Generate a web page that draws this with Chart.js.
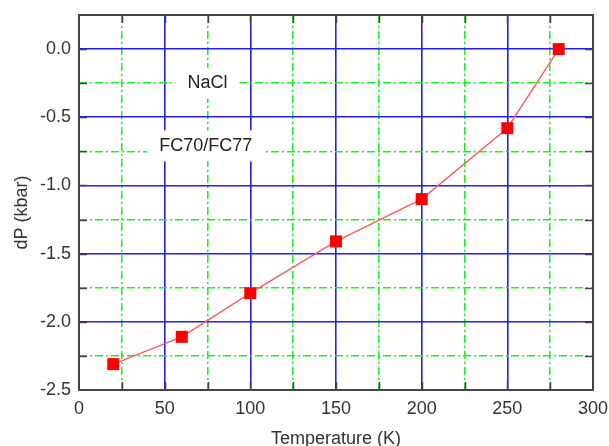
<!DOCTYPE html>
<html>
<head>
<meta charset="utf-8">
<script src="https://cdn.jsdelivr.net/npm/chart.js@4/dist/chart.umd.min.js"></script>
<style>
  html, body { margin: 0; padding: 0; background: #fff; }
  #wrap { width: 609px; height: 446px; }
</style>
</head>
<body>
<div id="wrap"><canvas id="c" width="609" height="446"></canvas></div>
<script>
// Pressure shift of the NaCl gauge in FC70/FC77 versus temperature
const temperatures = [20, 60, 100, 150, 200, 250, 280];   // K
const pressureShift = [-2.31, -2.11, -1.79, -1.41, -1.10, -0.58, 0.0]; // kbar

const xRange = [0, 300];
const yRange = [-2.5, 0.25];
const xMajorStep = 50, xMinorStep = 25;
const yMajorStep = 0.5, yMinorStep = 0.25;

const annotations = [
  { text: 'NaCl', x: 75, y: -0.25 },
  { text: 'FC70/FC77', x: 74, y: -0.71 }
];

const axisTitleX = 'Temperature (K)';
const axisTitleY = 'dP (kbar)';

const FONT = '"Liberation Sans", Arial, sans-serif';
const MAJOR_COLOR = 'rgb(30,30,255)';
const MINOR_COLOR = 'rgb(30,240,30)';
const FRAME_COLOR = '#444';

function isMultiple(v, step) {
  const r = v / step;
  return Math.abs(r - Math.round(r)) < 1e-6;
}

function gridColor(range, majorStep) {
  return (ctx) => {
    const v = ctx.tick ? ctx.tick.value : null;
    if (v === null) return 'rgba(0,0,0,0)';
    if (Math.abs(v - range[0]) < 1e-6 || Math.abs(v - range[1]) < 1e-6) return 'rgba(0,0,0,0)';
    return isMultiple(v, majorStep) ? MAJOR_COLOR : MINOR_COLOR;
  };
}

function gridDash(majorStep) {
  return (ctx) => {
    if (!ctx.tick) return [];
    return isMultiple(ctx.tick.value, majorStep) ? [] : [8, 3, 2, 3];
  };
}

// Frame, inward tick marks, text boxes and axis titles
const decorations = {
  id: 'decorations',
  beforeDatasetsDraw(chart) {
    const { ctx, scales } = chart;
    ctx.save();
    ctx.font = '18px ' + FONT;
    ctx.textAlign = 'center';
    ctx.textBaseline = 'middle';
    annotations.forEach(a => {
      const px = scales.x.getPixelForValue(a.x);
      const py = scales.y.getPixelForValue(a.y);
      const w = ctx.measureText(a.text).width + 24;
      const h = 31;
      ctx.fillStyle = '#fff';
      ctx.fillRect(px - w / 2, py - h / 2, w, h);
      ctx.fillStyle = '#222';
      ctx.fillText(a.text, px, py);
    });
    ctx.restore();
  },
  afterDraw(chart) {
    const { ctx, chartArea: a, scales } = chart;
    ctx.save();
    const len = 8;
    ctx.strokeStyle = FRAME_COLOR;
    ctx.lineWidth = 1.5;
    ctx.beginPath();
    for (let v = xRange[0] + xMinorStep; v < xRange[1] - 1e-6; v += xMinorStep) {
      const px = Math.round(scales.x.getPixelForValue(v)) + 0.5;
      ctx.moveTo(px, a.bottom); ctx.lineTo(px, a.bottom - len);
      ctx.moveTo(px, a.top); ctx.lineTo(px, a.top + len);
    }
    for (let v = yRange[0] + yMinorStep; v < yRange[1] - 1e-6; v += yMinorStep) {
      const py = Math.round(scales.y.getPixelForValue(v)) + 0.5;
      ctx.moveTo(a.left, py); ctx.lineTo(a.left + len, py);
      ctx.moveTo(a.right, py); ctx.lineTo(a.right - len, py);
    }
    ctx.stroke();
    ctx.lineWidth = 2;
    ctx.strokeRect(a.left, a.top, a.right - a.left, a.bottom - a.top);

    ctx.fillStyle = '#333';
    ctx.font = '18px ' + FONT;
    ctx.textAlign = 'center';
    ctx.textBaseline = 'alphabetic';
    ctx.fillText(axisTitleX, (a.left + a.right) / 2, 444);
    ctx.translate(27, (a.top + a.bottom) / 2 + 10);
    ctx.rotate(-Math.PI / 2);
    ctx.fillText(axisTitleY, 0, 0);
    ctx.restore();
  }
};

new Chart(document.getElementById('c'), {
  type: 'line',
  data: {
    datasets: [{
      data: temperatures.map((t, i) => ({ x: t, y: pressureShift[i] })),
      borderColor: 'rgb(255,90,90)',
      borderWidth: 1.4,
      backgroundColor: 'rgb(255,0,0)',
      pointStyle: 'rect',
      pointRadius: 8.5,
      pointBorderWidth: 0,
      pointBackgroundColor: 'rgb(255,0,0)',
      tension: 0,
      fill: false
    }]
  },
  options: {
    responsive: false,
    animation: false,
    devicePixelRatio: 1,
    layout: { padding: { left: 0, top: 15, right: 16, bottom: 0 } },
    plugins: { legend: { display: false }, tooltip: { enabled: false } },
    scales: {
      x: {
        type: 'linear',
        min: xRange[0], max: xRange[1],
        afterFit(scale) {
          scale.height = 56;
          scale.paddingLeft = 0; scale.paddingRight = 0;
        },
        ticks: {
          stepSize: xMinorStep,
          autoSkip: false,
          maxRotation: 0,
          padding: 8,
          color: '#333',
          font: { family: FONT, size: 18 },
          callback: (v) => isMultiple(v, xMajorStep) ? String(v) : ''
        },
        grid: { drawTicks: false, color: gridColor(xRange, xMajorStep), lineWidth: 1.6 },
        border: { display: false, dash: gridDash(xMajorStep) }
      },
      y: {
        type: 'linear',
        min: yRange[0], max: yRange[1],
        afterFit(scale) {
          scale.width = 79;
          scale.paddingTop = 0; scale.paddingBottom = 0;
        },
        ticks: {
          stepSize: yMinorStep,
          autoSkip: false,
          padding: 8,
          color: '#333',
          font: { family: FONT, size: 18 },
          callback: (v) => isMultiple(v, yMajorStep) ? Number(v).toFixed(1) : ''
        },
        grid: { drawTicks: false, color: gridColor(yRange, yMajorStep), lineWidth: 1.6 },
        border: { display: false, dash: gridDash(yMajorStep) }
      }
    }
  },
  plugins: [decorations]
});
</script>
</body>
</html>
